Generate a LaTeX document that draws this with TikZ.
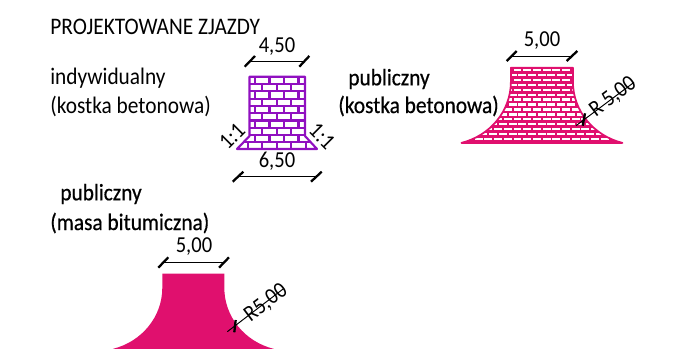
\documentclass[tikz,border=0pt]{standalone}
\usepackage{fontspec}
\setmainfont[FakeStretch=0.9]{Carlito}
\newfontfamily\heavyfont[FakeStretch=0.9,FakeBold=0.5]{Carlito}
\definecolor{brickpurple}{RGB}{144,16,192}
\definecolor{brickpink}{RGB}{224,16,110}
\begin{document}
\begin{tikzpicture}[x=0.02cm,y=-0.02cm,
  label/.style={inner sep=0pt,font=\fontsize{13.5}{14}\selectfont},
  heavy/.style={inner sep=0pt,font=\fontsize{13.5}{14}\heavyfont},
  size/.style={inner sep=0pt,font=\fontsize{13}{14}\selectfont},
  dimline/.style={line width=0.55pt},
  dimtick/.style={line width=1.3pt}]
\useasboundingbox (0,0) rectangle (682,361);
\def\flare{(-31,0) -- (-31,14) .. controls (-31,43.3) and (-51.7,68) .. (-80.5,75.2)
  -- (80.5,75.2) .. controls (51.7,68) and (31,43.3) .. (31,14) -- (31,0) -- cycle}

% Individual entrance, purple bricks
\begin{scope}
  \clip (249.5,76.7) -- (305,76.7) -- (305,136) -- (317,149) -- (237,149) -- (249.5,136) -- cycle;
  \foreach \r in {0,...,9} {
    \draw[brickpurple,line width=1.15pt] (230,76.7+7.3*\r) -- (330,76.7+7.3*\r);
    \pgfmathsetmacro{\off}{mod(\r,2)==0 ? 255 : 262.3}
    \foreach \c in {-1,...,5} {
      \draw[brickpurple,line width=1.15pt] (\off+14.5*\c,76.7+7.3*\r) -- (\off+14.5*\c,84+7.3*\r);
    }
  }
\end{scope}
\draw[brickpurple,line width=1.2pt,line join=round] (249.5,76.7) -- (305,76.7) -- (305,136) -- (317,149) -- (237,149) -- (249.5,136) -- cycle;

% Public entrance, pink bricks
\begin{scope}[shift={(541.9,67.7)}]
  \fill[brickpink] \flare;
  \begin{scope}
    \clip \flare;
    \foreach \r in {0,...,14} {
      \pgfmathsetmacro{\off}{mod(\r,2)==0 ? -28.4 : -23.6}
      \foreach \c in {-6,...,11} {
        \fill[white] (\off+9.7*\c,1.4+4.9*\r) rectangle (\off+9.7*\c+7.9,3.8+4.9*\r);
      }
    }
  \end{scope}
  \draw[brickpink,line width=1pt,line join=round] \flare;
\end{scope}

% Public entrance, solid
\begin{scope}[shift={(193.3,273.7)}]
  \fill[brickpink] \flare;
\end{scope}

% Dimension lines
\draw[dimline] (250,61.7) -- (304,61.7);
\draw[dimtick] (244.7,66.7) -- (255,56);
\draw[dimtick] (299.3,66.7) -- (309.3,56);
\draw[dimline] (238,176.7) -- (316,176.7);
\draw[dimtick] (232.7,181.7) -- (243.3,171.7);
\draw[dimtick] (311,181.7) -- (321.7,171.7);
\draw[dimline] (511.7,56) -- (572,56);
\draw[dimtick] (506.7,61) -- (516.7,51);
\draw[dimtick] (566.7,61) -- (577.3,51);
\draw[dimline] (163,262.3) -- (224,262.3);
\draw[dimtick] (158.3,267.7) -- (168.3,257.3);
\draw[dimtick] (219,267.7) -- (229,257.3);

% Radius leaders
\draw[dimline] (576,125.7) -- (634,82.3);
\draw[dimtick] (582.7,125.7) -- (585,113.3);
\draw[dimline] (227.3,331.7) -- (284,288.3);
\draw[dimtick] (234.3,332.3) -- (235.7,320);

% Labels
\node[label,anchor=west] (title) at (50,27) {PROJEKTOWANE ZJAZDY};
\node[label,anchor=west] (indiv) at (50,78) {indywidualny};
\node[label,anchor=west] (indivtype) at (50,106) {(kostka betonowa)};
\node[heavy,anchor=west] (pub) at (348,79) {publiczny};
\node[heavy,anchor=west] (pubtype) at (338,106) {(kostka betonowa)};
\node[heavy,anchor=west] (bit) at (60,194) {publiczny};
\node[heavy,anchor=west] (bittype) at (50,223) {(masa bitumiczna)};
\node[size] (width a) at (277,47) {4,50};
\node[size] (width b) at (277,161) {6,50};
\node[size] (width c) at (542,41) {5,00};
\node[size] (width d) at (194,247) {5,00};
\node[size,rotate=45] (slope a) at (232,136) {1:1};
\node[size,rotate=-45] (slope b) at (322,136) {1:1};
\node[size,rotate=37] (radius a) at (613,97) {R 5,00};
\node[size,rotate=37] (radius b) at (266,303) {R5,00};
\end{tikzpicture}
\end{document}
